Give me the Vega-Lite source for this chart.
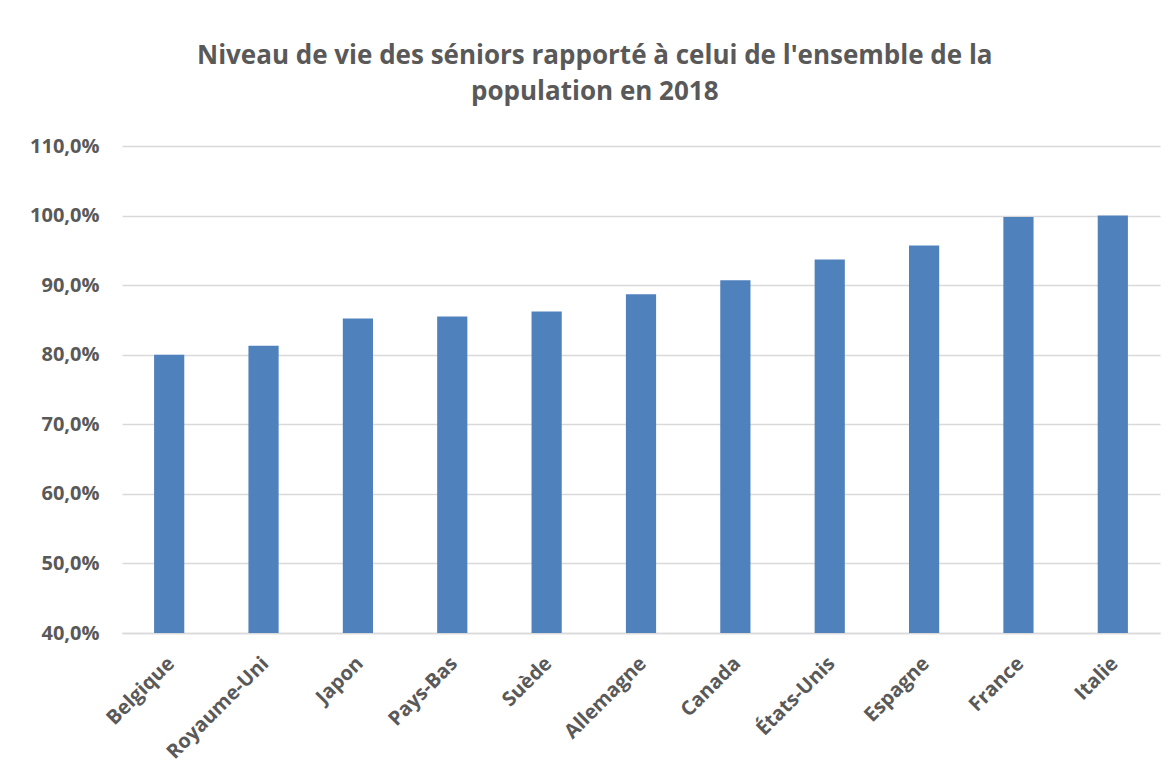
{
  "$schema": "https://vega.github.io/schema/vega-lite/v6.json",
  "width": 1038,
  "height": 487,
  "autosize": "none",
  "padding": {"left": 122, "top": 146, "right": 14, "bottom": 141},
  "background": "white",
  "config": {
    "locale": {"number": {"decimal": ",", "thousands": " ", "grouping": [3], "currency": ["", " €"]}},
    "view": {"stroke": null},
    "font": "Open Sans"
  },
  "title": {
    "text": ["Niveau de vie des séniors rapporté à celui de l'ensemble de la", "population en 2018"],
    "font": "Open Sans",
    "fontSize": 26,
    "fontWeight": "bold",
    "color": "#595959",
    "lineHeight": 36,
    "anchor": "middle",
    "frame": "bounds",
    "offset": 31
  },
  "data": {
    "values": [
      {"pays": "Belgique", "valeur": 0.800},
      {"pays": "Royaume-Uni", "valeur": 0.813},
      {"pays": "Japon", "valeur": 0.852},
      {"pays": "Pays-Bas", "valeur": 0.855},
      {"pays": "Suède", "valeur": 0.862},
      {"pays": "Allemagne", "valeur": 0.887},
      {"pays": "Canada", "valeur": 0.907},
      {"pays": "États-Unis", "valeur": 0.937},
      {"pays": "Espagne", "valeur": 0.957},
      {"pays": "France", "valeur": 0.998},
      {"pays": "Italie", "valeur": 1.000}
    ]
  },
  "mark": {"type": "bar", "color": "#4f81bd", "clip": true},
  "encoding": {
    "x": {
      "field": "pays",
      "type": "nominal",
      "sort": null,
      "scale": {"paddingInner": 0.68, "paddingOuter": 0.34},
      "axis": {
        "title": null,
        "labelAngle": -45,
        "labelFont": "Open Sans",
        "labelFontSize": 20,
        "labelFontWeight": "bold",
        "labelColor": "#595959",
        "labelPadding": 20,
        "labelOffset": -5,
        "ticks": false,
        "domainColor": "#d9d9d9",
        "domainWidth": 1.5
      }
    },
    "y": {
      "field": "valeur",
      "type": "quantitative",
      "scale": {"domain": [0.4, 1.1], "zero": false, "nice": false},
      "axis": {
        "title": null,
        "format": ".1%",
        "values": [0.4, 0.5, 0.6, 0.7, 0.8, 0.9, 1.0, 1.1],
        "labelFont": "Open Sans",
        "labelFontSize": 20,
        "labelFontWeight": "bold",
        "labelColor": "#595959",
        "labelPadding": 23,
        "ticks": false,
        "domain": false,
        "gridColor": "#d9d9d9",
        "gridWidth": 1.5
      }
    }
  }
}
